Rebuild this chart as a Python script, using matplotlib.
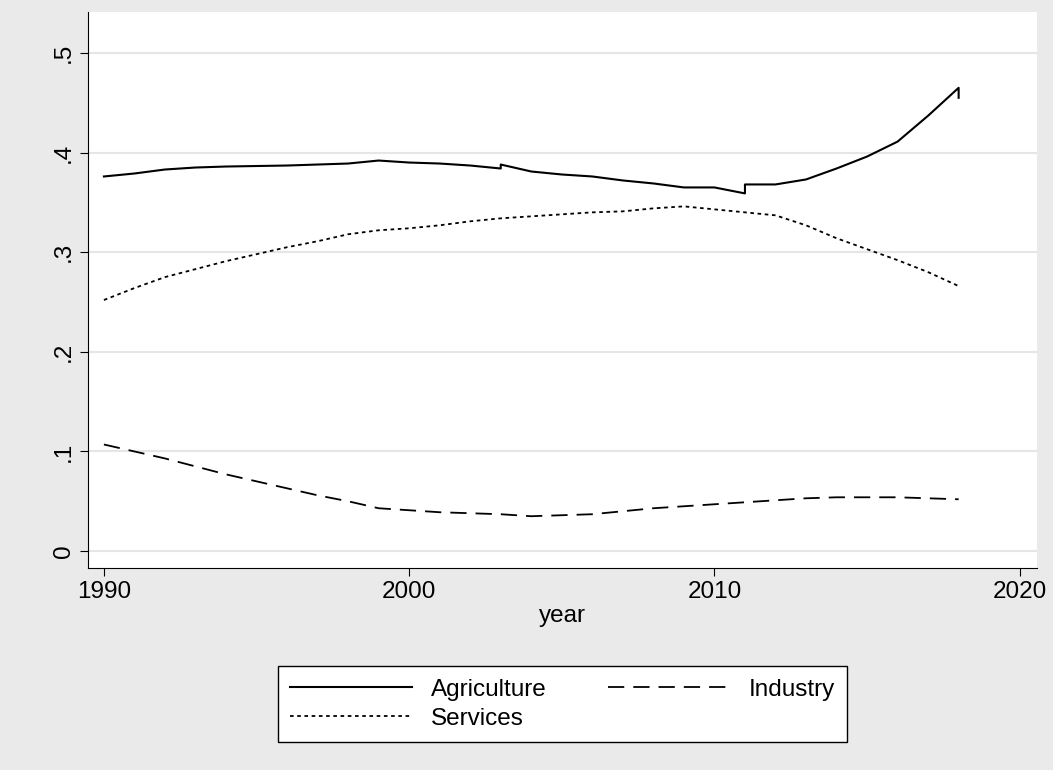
import matplotlib.pyplot as plt
plt.rcParams['font.family'] = ['Liberation Sans', 'DejaVu Sans']

years_a = [1990,1991,1992,1993,1994,1995,1996,1997,1998,1999,2000,2001,2002,2003,2003,2004,2005,2006,2007,2008,2009,2010,2011,2011,2012,2013,2014,2015,2016,2017,2018,2018]
agri = [.376,.379,.383,.385,.386,.3865,.387,.388,.389,.392,.390,.389,.387,.384,.388,.381,.378,.376,.372,.369,.365,.365,.359,.368,.368,.373,.384,.396,.411,.437,.465,.455]
years = list(range(1990, 2019))
services = [.252,.264,.275,.283,.291,.298,.305,.311,.318,.322,.324,.327,.331,.334,.336,.338,.340,.341,.344,.346,.343,.340,.337,.327,.314,.303,.292,.280,.266]
industry = [.107,.100,.093,.085,.077,.070,.063,.056,.050,.043,.041,.039,.038,.037,.035,.036,.037,.040,.043,.045,.047,.049,.051,.053,.054,.054,.054,.053,.052]

fig = plt.figure(figsize=(10.53, 7.7), dpi=100, facecolor='#eaeaea')
ax = fig.add_axes([0.0836, 0.2623, 0.901, 0.722])
ax.set_facecolor('white')
la, = ax.plot(years_a, agri, color='black', lw=1.5, label='Agriculture')
li, = ax.plot(years, industry, color='black', lw=1.3, dashes=(9, 5), label='Industry')
ls, = ax.plot(years, services, color='black', lw=1.3, dashes=(2, 2), label='Services')
ax.set_xlim(1989.48, 2020.56)
ax.set_ylim(-0.017, 0.541)
ax.set_xticks([1990, 2000, 2010, 2020])
ax.set_yticks([0, .1, .2, .3, .4, .5])
ax.set_yticklabels(['0', '.1', '.2', '.3', '.4', '.5'], rotation=90, va='center')
ax.tick_params(labelsize=17.5, length=6)
ax.grid(axis='y', color='#e6e6e6', lw=1.5)
ax.set_axisbelow(True)
for s in ['top', 'right']:
    ax.spines[s].set_visible(False)
ax.set_xlabel('year', fontsize=17.5, labelpad=1)
leg = ax.legend([la, ls, li], ['Agriculture', 'Services', 'Industry'],
                loc='upper center', bbox_to_anchor=(0.5, -0.155), ncol=2, fontsize=17.5,
                frameon=True, fancybox=False, edgecolor='black', handlelength=5,
                columnspacing=2.5, borderpad=0.5, labelspacing=0.3, framealpha=1)
leg.get_frame().set_linewidth(1)
fig.savefig('out.png', dpi=100, facecolor=fig.get_facecolor())
